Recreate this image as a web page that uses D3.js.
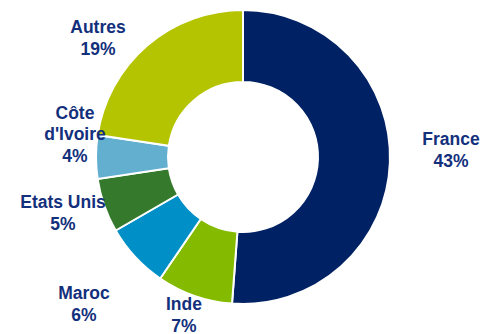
<!DOCTYPE html>
<html lang="fr">
<head>
<meta charset="utf-8">
<title>Répartition</title>
<script src="https://cdn.jsdelivr.net/npm/d3@7"></script>
<style>
  body { margin: 0; background: #fff; }
  .lbl { font-family: "Liberation Sans", Arial, sans-serif; font-weight: bold; font-size: 17.5px; fill: #13307c; }
</style>
</head>
<body>
<svg id="chart" width="482" height="334"></svg>
<script>
// data, clockwise from top
var pays = ["France", "Inde", "Maroc", "Etats Unis", "Côte d'Ivoire", "Autres"];
var parts = [43, 7, 6, 5, 4, 19];
var couleurs = ["#002163", "#84bb00", "#008fc6", "#357a2c", "#63afd0", "#b5c400"];
// label lines as printed
var etiquettes = [["France", "43%"], ["Inde", "7%"], ["Maroc", "6%"], ["Etats Unis", "5%"],
                  ["Côte", "d'Ivoire", "4%"], ["Autres", "19%"]];

var svg = d3.select("#chart");
var cx = 243, cy = 157, rOut = 147, rIn = 75;

var pie = d3.pie().sort(null).value(function(d) { return d; });
var arc = d3.arc().innerRadius(rIn).outerRadius(rOut);
var arcs = pie(parts);

var g = svg.append("g").attr("transform", "translate(" + cx + "," + cy + ")");

g.selectAll("path")
  .data(arcs)
  .enter().append("path")
    .attr("d", arc)
    .attr("fill", function(d, i) { return couleurs[i]; })
    .attr("stroke", "#fff")
    .attr("stroke-width", 2);

// label positions (centre of text block)
var labelPos = [[451, 150], [184, 315], [84, 304], [63, 213], [75, 134], [98, 38]];
var lineH = 21.5;

etiquettes.forEach(function(lines, i) {
  var n = lines.length;
  var t = svg.append("text")
    .attr("class", "lbl")
    .attr("text-anchor", "middle")
    .attr("x", labelPos[i][0])
    .attr("y", labelPos[i][1] - (n - 1) * lineH / 2)
    .attr("dy", "0.35em");
  lines.forEach(function(s, j) {
    t.append("tspan")
      .attr("x", labelPos[i][0])
      .attr("dy", j === 0 ? "0.35em" : lineH)
      .text(s);
  });
});
</script>
</body>
</html>
